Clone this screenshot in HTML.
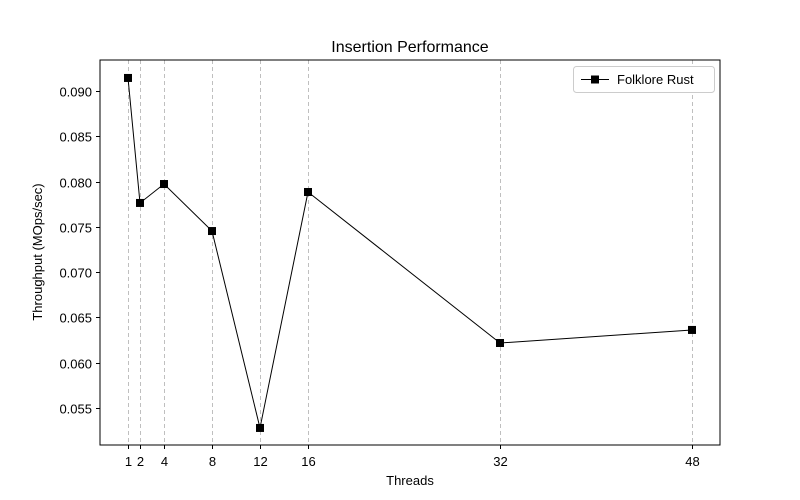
<!DOCTYPE html>
<html><head><meta charset="utf-8"><style>
body{margin:0;background:#fff;}
svg{display:block;font-family:"Liberation Sans","DejaVu Sans",sans-serif;}
</style></head><body>
<svg id="chart" width="800" height="500" viewBox="0 0 800 500">
<rect x="0" y="0" width="800" height="500" fill="#fff"/>
<g id="grid"></g>
<g id="series"></g>
<rect x="100" y="60" width="620" height="385" fill="none" stroke="#000" stroke-width="1"/>
<g id="xticks"></g>
<g id="yticks"></g>
<text x="410" y="52" font-size="16" text-anchor="middle">Insertion Performance</text>
<text x="410" y="485" font-size="13" text-anchor="middle">Threads</text>
<text x="0" y="0" font-size="13" text-anchor="middle" transform="translate(42,252) rotate(-90)">Throughput (MOps/sec)</text>
<g>
<rect x="573.5" y="66.5" width="141" height="26" rx="3" fill="#fff" stroke="#ccc"/>
<line x1="581" y1="79.5" x2="609" y2="79.5" stroke="#000" stroke-width="1"/>
<rect x="591" y="75.5" width="8" height="8" fill="#000"/>
<text x="617" y="84" font-size="13">Folklore Rust</text>
</g>
</svg>
<script>
const threads=[1,2,4,8,12,16,32,48];
const throughput=[0.09144,0.07764,0.07973,0.07454,0.0528,0.07885,0.06218,0.06362];
const yTicks=[0.055,0.060,0.065,0.070,0.075,0.080,0.085,0.090];
const yTickLabels=["0.055","0.060","0.065","0.070","0.075","0.080","0.085","0.090"];
const NS="http://www.w3.org/2000/svg";
function xs(t){return 128+(t-1)*12;}
function ys(v){return 91+(0.090-v)/0.005*45.29;}
function mk(tag,attrs,parent){const e=document.createElementNS(NS,tag);for(const k in attrs)e.setAttribute(k,attrs[k]);parent.appendChild(e);return e;}
const grid=document.getElementById('grid'),xt=document.getElementById('xticks'),yt=document.getElementById('yticks'),ser=document.getElementById('series');
threads.forEach(t=>{
  const x=Math.round(xs(t))+0.5;
  const g=mk('line',{x1:x,y1:60,x2:x,y2:445,stroke:'#b0b0b0','stroke-dasharray':'4,3','stroke-width':0.8},grid);
  
  
  const tk=mk('line',{x1:x,y1:445,x2:x,y2:449,stroke:'#000'},xt);
  
  
  const tx=mk('text',{x:x,y:466,'font-size':13,'text-anchor':'middle'},xt);
  tx.textContent=String(t);
  
  
});
yTicks.forEach((v,i)=>{
  const y=Math.round(ys(v))+0.5;
  const tk=mk('line',{x1:96,y1:y,x2:100,y2:y,stroke:'#000'},yt);
  
  
  const tx=mk('text',{x:92,y:y+5,'font-size':13,'text-anchor':'end'},yt);
  tx.textContent=yTickLabels[i];
  
  
});
const pts=threads.map((t,i)=>xs(t)+','+ys(throughput[i])).join(' ');
const pl=mk('polyline',{points:pts,fill:'none',stroke:'#000','stroke-width':1},ser);


threads.forEach((t,i)=>{
  const r=mk('rect',{x:xs(t)-4,y:ys(throughput[i])-4,width:8,height:8,fill:'#000'},ser);
  
  
});
</script>
</body></html>
